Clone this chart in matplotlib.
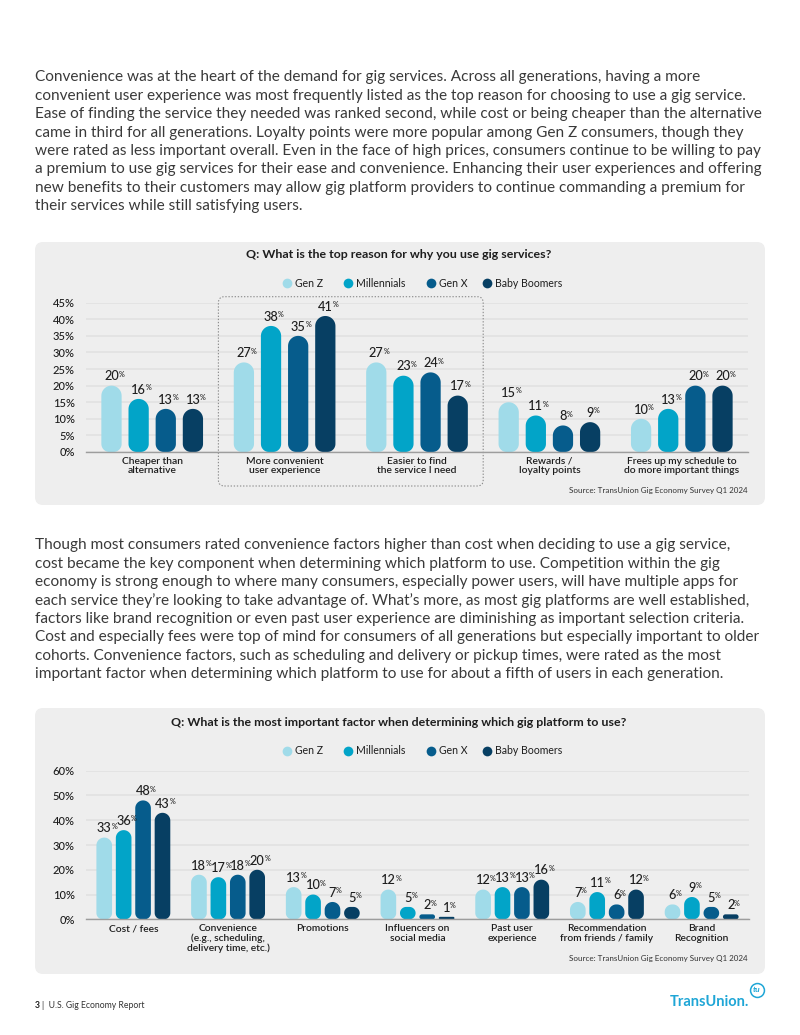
import matplotlib
matplotlib.use("Agg")
import matplotlib.pyplot as plt
from matplotlib.patches import FancyBboxPatch, Polygon
from matplotlib.lines import Line2D
import numpy as np

plt.rcParams['font.family'] = ['Lato', 'DejaVu Sans']

W, H = 800, 1035

generations = ['Gen Z', 'Millennials', 'Gen X', 'Baby Boomers']
gen_colors = ['#a0dbe9', '#02a4c8', '#065c8c', '#073f63']

reasons = ['Cheaper than\nalternative', 'More convenient\nuser experience',
           'Easier to find\nthe service I need', 'Rewards /\nloyalty points',
           'Frees up my schedule to\ndo more important things']
reasons_genz = [20, 27, 27, 15, 10]
reasons_mill = [16, 38, 23, 11, 13]
reasons_genx = [13, 35, 24, 8, 20]
reasons_boom = [13, 41, 17, 9, 20]

factors = ['Cost / fees', 'Convenience\n(e.g., scheduling,\ndelivery time, etc.)', 'Promotions',
           'Influencers on\nsocial media', 'Past user\nexperience',
           'Recommendation\nfrom friends / family', 'Brand\nRecognition']
factors_genz = [33, 18, 13, 12, 12, 7, 6]
factors_mill = [36, 17, 10, 5, 13, 11, 9]
factors_genx = [48, 18, 7, 2, 13, 6, 5]
factors_boom = [43, 20, 5, 1, 16, 12, 2]

para1 = [
    "Convenience was at the heart of the demand for gig services. Across all generations, having a more",
    "convenient user experience was most frequently listed as the top reason for choosing to use a gig service.",
    "Ease of finding the service they needed was ranked second, while cost or being cheaper than the alternative",
    "came in third for all generations. Loyalty points were more popular among Gen Z consumers, though they",
    "were rated as less important overall. Even in the face of high prices, consumers continue to be willing to pay",
    "a premium to use gig services for their ease and convenience. Enhancing their user experiences and offering",
    "new benefits to their customers may allow gig platform providers to continue commanding a premium for",
    "their services while still satisfying users.",
]
para2 = [
    "Though most consumers rated convenience factors higher than cost when deciding to use a gig service,",
    "cost became the key component when determining which platform to use. Competition within the gig",
    "economy is strong enough to where many consumers, especially power users, will have multiple apps for",
    "each service they\u2019re looking to take advantage of. What\u2019s more, as most gig platforms are well established,",
    "factors like brand recognition or even past user experience are diminishing as important selection criteria.",
    "Cost and especially fees were top of mind for consumers of all generations but especially important to older",
    "cohorts. Convenience factors, such as scheduling and delivery or pickup times, were rated as the most",
    "important factor when determining which platform to use for about a fifth of users in each generation.",
]
source = 'Source: TransUnion Gig Economy Survey Q1 2024'

TXT = '#1e1e1e'


def fx(px):
    return px / W


def fy(py):
    return 1 - py / H


fig = plt.figure(figsize=(8, 10.35), dpi=100)
fig.patch.set_facecolor('white')


def paragraph(lines, y0, step=18.35):
    for i, line in enumerate(lines):
        fig.text(fx(35), fy(y0 + i * step), line, ha='left', va='center_baseline',
                 fontsize=11.1, color='#3a3a3a')


def panel(top, bottom):
    box = FancyBboxPatch((fx(35), fy(bottom)), fx(730), (bottom - top) / H,
                         boxstyle='round,pad=0,rounding_size=0.01', mutation_aspect=W / H,
                         transform=fig.transFigure, fc='#eeeeee', ec='none', zorder=-5)
    fig.patches.append(box)


def legend(y):
    xs = [287, 347.6, 431, 486.8]
    for name, c, x in zip(generations, gen_colors, xs):
        fig.add_artist(Line2D([fx(x)], [fy(y)], marker='o', ms=7, color=c, mec='none',
                              transform=fig.transFigure))
        fig.text(fx(x + 8), fy(y), name, ha='left', va='center', fontsize=7.6, color=TXT)


def pill(ax, x, w, h, color, aspect):
    # rounded bar as one polygon; radii given in x units, scaled to y by aspect
    rt = min(w / 2, h / aspect / 2)
    rb = min(w * 0.4, rt)
    corners = [
        (x - w / 2 + rb, rb * aspect, rb, np.pi, 1.5 * np.pi),
        (x + w / 2 - rb, rb * aspect, rb, 1.5 * np.pi, 2 * np.pi),
        (x + w / 2 - rt, h - rt * aspect, rt, 0, 0.5 * np.pi),
        (x - w / 2 + rt, h - rt * aspect, rt, 0.5 * np.pi, np.pi),
    ]
    pts = []
    for cx, cy, r, a0, a1 in corners:
        a = np.linspace(a0, a1, 16)
        pts.extend(zip(cx + r * np.cos(a), cy + r * aspect * np.sin(a)))
    ax.add_patch(Polygon(pts, closed=True, fc=color, ec='none', zorder=3))


def bar_chart(left, right, top, base, ymax, ystep, cats, series, bar_w, tick_pad):
    ax = fig.add_axes([fx(left), fy(base), (right - left) / W, (base - top) / H])
    n = len(cats)
    ax.set_xlim(-0.5, n - 0.5)
    ax.set_ylim(0, ymax)
    px_x = (right - left) / n
    px_y = (base - top) / ymax
    aspect = px_x / px_y
    ax.set_facecolor('none')
    for s in ['top', 'right', 'left']:
        ax.spines[s].set_visible(False)
    ax.spines['bottom'].set_color('#9d9d9d')
    ax.spines['bottom'].set_linewidth(1.0)
    ax.spines['bottom'].set_zorder(4)
    ticks = np.arange(0, ymax + 1, ystep)
    ax.set_yticks(ticks, [f'{t}%' for t in ticks])
    ax.grid(axis='y', color='#e0e0e0', lw=1.1)
    ax.set_axisbelow(True)
    ax.tick_params(axis='y', length=0, pad=8, labelsize=8, labelcolor=TXT)
    for lab in ax.get_yticklabels():
        lab.set_fontweight('medium')
    idx = np.arange(n)
    ax.set_xticks(idx, cats)
    ax.tick_params(axis='x', length=0, pad=tick_pad, labelsize=7.4, labelcolor=TXT)
    for lab in ax.get_xticklabels():
        lab.set_fontweight('semibold')
        lab.set_linespacing(1.05)
    pitch = 0.205
    for k, vals in enumerate(series):
        xs = idx + (k - 1.5) * pitch
        for x, v in zip(xs, vals):
            pill(ax, x, bar_w, v, gen_colors[k], aspect)
            t = ax.annotate(f'{v}', xy=(x, v), xytext=(0, 2.3), textcoords='offset points',
                            ha='center', va='bottom', fontsize=9.2, fontweight='medium',
                            color=TXT, zorder=5)
            ax.annotate('%', xy=(1, 0.47), xycoords=t, xytext=(-0.2, 0), textcoords='offset points',
                        ha='left', va='baseline', fontsize=5.2, fontweight='medium', color=TXT,
                        zorder=5)
    return ax, px_x, px_y, aspect


paragraph(para1, 76)
paragraph(para2, 544)

# chart 1
panel(242, 505)
fig.text(fx(399), fy(255), 'Q: What is the top reason for why you use gig services?',
         ha='center', va='center', fontsize=8.9, fontweight='bold', color=TXT)
legend(283.3)
ax1, px_x1, px_y1, asp1 = bar_chart(86, 748, 302.7, 452, 45, 5, reasons,
                                    [reasons_genz, reasons_mill, reasons_genx, reasons_boom],
                                    0.153, 3.5)
y_lo = -34 / px_y1
y_hi = 45 + 6 / px_y1
ax1.add_patch(FancyBboxPatch((0.5, y_lo), 2.0, y_hi - y_lo,
                             boxstyle=f'round,pad=0,rounding_size={6 / px_x1}', mutation_aspect=asp1,
                             fill=False, ec='#8a8a8a', lw=0.8, ls=(0, (1.2, 1.6)), clip_on=False,
                             zorder=1))
fig.text(fx(748), fy(490), source, ha='right', va='center', fontsize=5.8, color='#333333')

# chart 2
panel(708, 974)
fig.text(fx(399), fy(722), 'Q: What is the most important factor when determining which gig platform to use?',
         ha='center', va='center', fontsize=8.9, fontweight='bold', color=TXT)
legend(750.5)
bar_chart(86, 749, 770.7, 919.3, 60, 10, factors,
          [factors_genz, factors_mill, factors_genx, factors_boom], 0.165, 3.5)
fig.text(fx(748), fy(959), source, ha='right', va='center', fontsize=5.8, color='#333333')

# footer
fig.text(fx(35), fy(1005), '3', ha='left', va='center', fontsize=6.2, fontweight='bold', color='#222222')
fig.text(fx(42), fy(1005), '|  U.S. Gig Economy Report', ha='left', va='center', fontsize=6.2,
         color='#333333')
tu_blue = '#1fa6d6'
fig.text(fx(670), fy(1002), 'TransUnion.', ha='left', va='center', fontsize=10.5, fontweight='bold',
         color=tu_blue)
fig.add_artist(Line2D([fx(757)], [fy(990)], marker='o', ms=10, mfc='white', mec=tu_blue, mew=1.1,
                      transform=fig.transFigure))
fig.text(fx(757), fy(990), 'tu', ha='center', va='center', fontsize=6, fontstyle='italic',
         fontweight='bold', color=tu_blue)

fig.savefig('out.png', dpi=100, facecolor='white')
